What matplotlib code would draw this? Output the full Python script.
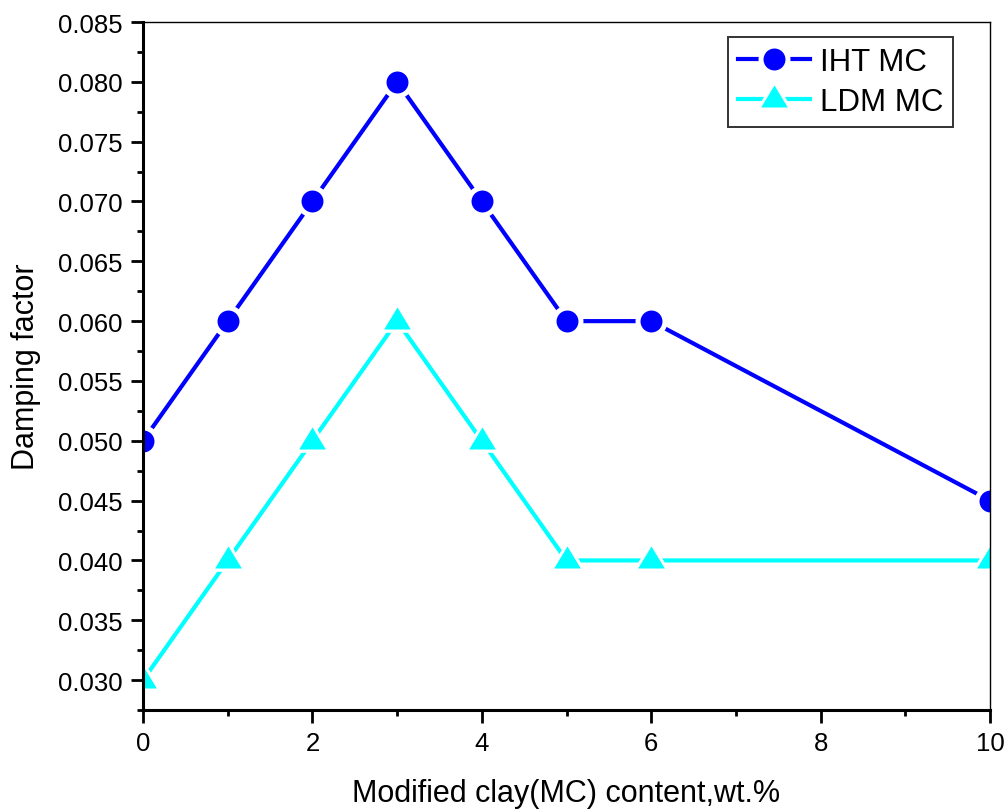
import matplotlib
matplotlib.use("Agg")
import matplotlib.pyplot as plt
from matplotlib.ticker import MultipleLocator, FormatStrFormatter
from matplotlib.path import Path
from matplotlib.legend_handler import HandlerTuple

plt.rcParams['font.family'] = ['Liberation Sans', 'DejaVu Sans']

x_vals = [0, 1, 2, 3, 4, 5, 6, 10]
iht_mc = [0.050, 0.060, 0.070, 0.080, 0.070, 0.060, 0.060, 0.045]
ldm_mc = [0.030, 0.040, 0.050, 0.060, 0.050, 0.040, 0.040, 0.040]
labels = ["IHT MC", "LDM MC"]
colors = ['#0000ff', '#00ffff']

tri = Path([(-1, -0.6), (1, -0.6), (0, 1.05), (-1, -0.6)],
           [Path.MOVETO, Path.LINETO, Path.LINETO, Path.CLOSEPOLY])

fig = plt.figure(figsize=(10.07, 8.12), dpi=100)
ax = fig.add_axes([143/1007, 1 - 711/812, (990-143)/1007, (711-23)/812])

handles = []
for ys, col, mk, ms, ms_gap, lab in [(iht_mc, colors[0], 'o', 15.8, 23.0, labels[0]),
                                     (ldm_mc, colors[1], tri, 20.2, 28.5, labels[1])]:
    ln, = ax.plot(x_vals, ys, color=col, lw=3, zorder=2)
    wh, = ax.plot(x_vals, ys, ls='none', marker=mk, ms=ms_gap, mfc='white',
                  mec='none', zorder=3)
    mc, = ax.plot(x_vals, ys, ls='none', marker=mk, ms=ms, mfc=col,
                  mec='none', zorder=4)
    handles.append(((ln, wh, mc), lab))

ax.set_xlim(0, 10)
ax.set_ylim(0.0275, 0.085)
ax.xaxis.set_major_locator(MultipleLocator(2))
ax.xaxis.set_minor_locator(MultipleLocator(1))
ax.yaxis.set_major_locator(MultipleLocator(0.005))
ax.yaxis.set_minor_locator(MultipleLocator(0.0025))
ax.yaxis.set_major_formatter(FormatStrFormatter('%.3f'))

for s in ['left', 'bottom']:
    ax.spines[s].set_linewidth(2.2)
    ax.spines[s].set_zorder(5)
for s in ['top', 'right']:
    ax.spines[s].set_linewidth(1.0)
    ax.spines[s].set_zorder(5)

ax.tick_params(which='major', direction='out', length=9, width=2, labelsize=18.5, pad=6)
ax.tick_params(which='minor', direction='out', length=4.5, width=2)
ax.tick_params(top=False, right=False, which='both')

ax.set_xlabel("Modified clay(MC) content,wt.%", fontsize=22, labelpad=17)
ax.set_ylabel("Damping factor", fontsize=22, labelpad=12)

leg = ax.legend([h for h, _ in handles], [l for _, l in handles],
                handler_map={tuple: HandlerTuple(ndivide=1, pad=0)},
                loc='upper right', bbox_to_anchor=(953/1007, 1 - 38/812),
                bbox_transform=fig.transFigure, fontsize=22.5, frameon=True,
                fancybox=False, edgecolor='black', handlelength=2.3,
                borderpad=0.32, labelspacing=0.33, handletextpad=0.3, borderaxespad=0)
leg.get_frame().set_linewidth(1.4)
leg.set_zorder(6)

fig.savefig("out.png", dpi=100)
